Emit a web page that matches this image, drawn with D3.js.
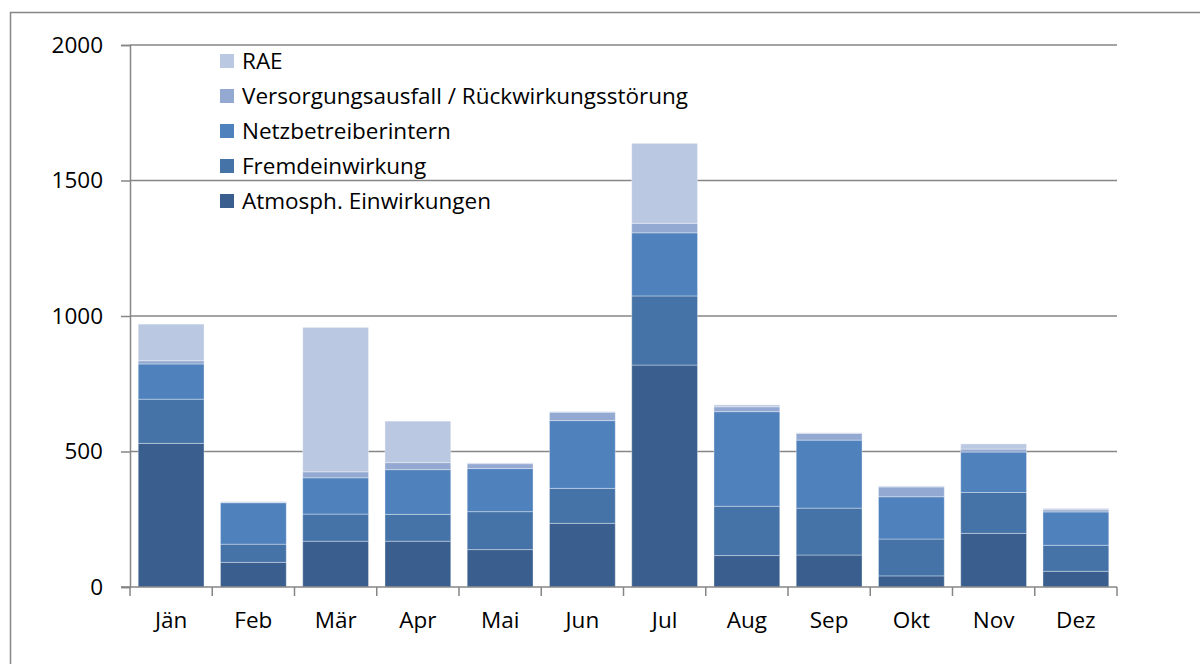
<!DOCTYPE html>
<html>
<head>
<meta charset="utf-8">
<script src="https://cdnjs.cloudflare.com/ajax/libs/d3/7.8.5/d3.min.js"></script>
<style>
  body { margin: 0; background: #fff; }
  text { font-family: "Open Sans", Lato, sans-serif; fill: #000; }
</style>
</head>
<body>
<div class="chart"></div>
<script>
const width = 1200;
const height = 664;

// months on the x axis
const months = ["Jän", "Feb", "Mär", "Apr", "Mai", "Jun", "Jul", "Aug", "Sep", "Okt", "Nov", "Dez"];

// series, bottom to top
const atmosph = [530, 91, 169, 169, 138, 235, 819, 116, 118, 41, 198, 58];
const fremd = [163, 67, 100, 99, 140, 129, 255, 182, 173, 136, 151, 96];
const netz = [130, 153, 134, 165, 159, 250, 233, 349, 251, 156, 149, 123];
const versorg = [12, 2, 22, 26, 18, 31, 35, 18, 25, 36, 11, 8];
const rae = [135, 2, 533, 153, 3, 2, 295, 7, 2, 3, 19, 5];

const seriesNames = ["Atmosph. Einwirkungen", "Fremdeinwirkung", "Netzbetreiberintern",
  "Versorgungsausfall / Rückwirkungsstörung", "RAE"];
const yTicks = [0, 500, 1000, 1500, 2000];

const colors = ["#3a5f8e", "#4572a7", "#4f81bd", "#93a9d1", "#bbc8e1"];

const margin = { left: 130, right: 1117, top: 45, bottom: 587 };
const fontSize = "22.5px";

const svg = d3.select(".chart")
  .append("svg")
  .attr("width", width)
  .attr("height", height);

// outer frame (only top and left visible)
svg.append("path")
  .attr("d", "M10.5," + height + " L10.5,12.5 L" + width + ",12.5")
  .attr("fill", "none")
  .attr("stroke", "#868686")
  .attr("stroke-width", 1.5);

const rows = months.map((m, i) => ({
  month: m,
  s0: atmosph[i], s1: fremd[i], s2: netz[i], s3: versorg[i], s4: rae[i]
}));
const keys = ["s0", "s1", "s2", "s3", "s4"];
const stacked = d3.stack().keys(keys)(rows);

const xScale = d3.scaleBand()
  .domain(months)
  .range([margin.left, margin.right])
  .paddingInner(0.2)
  .paddingOuter(0.1);

const yScale = d3.scaleLinear()
  .domain([0, 2000])
  .range([margin.bottom, margin.top]);

// gridlines
svg.append("g")
  .selectAll("line")
  .data(yTicks.filter(d => d > 0))
  .enter()
  .append("line")
  .attr("x1", margin.left)
  .attr("x2", margin.right)
  .attr("y1", d => yScale(d))
  .attr("y2", d => yScale(d))
  .attr("stroke", "#868686")
  .attr("stroke-width", 1.5);

// bars
svg.append("g")
  .selectAll("g")
  .data(stacked)
  .enter()
  .append("g")
  .attr("fill", (d, i) => colors[i])
  .selectAll("rect")
  .data(d => d)
  .enter()
  .append("rect")
  .attr("x", d => xScale(d.data.month))
  .attr("width", xScale.bandwidth())
  .attr("y", d => yScale(d[1]))
  .attr("height", d => Math.max(0, yScale(d[0]) - yScale(d[1])))
  .attr("stroke", "rgba(255,255,255,0.35)")
  .attr("stroke-width", 1);

// y axis
const yAxis = d3.axisLeft(yScale).tickValues(yTicks).tickSize(9).tickPadding(18).tickFormat(d3.format("d"));
const gy = svg.append("g")
  .attr("transform", "translate(" + margin.left + ",0)")
  .call(yAxis);
gy.select(".domain").attr("stroke", "#868686").attr("stroke-width", 1.5);
gy.selectAll(".tick line").attr("stroke", "#868686").attr("stroke-width", 1.5);
gy.selectAll(".tick text").style("font-size", fontSize).attr("fill", "#000");

// x axis with ticks between the categories
const gx = svg.append("g")
  .attr("transform", "translate(0," + margin.bottom + ")");
gx.append("line")
  .attr("x1", margin.left - 9)
  .attr("x2", margin.right)
  .attr("stroke", "#868686")
  .attr("stroke-width", 1.5);
const step = (margin.right - margin.left) / months.length;
gx.selectAll(".xt")
  .data(d3.range(months.length + 1))
  .enter()
  .append("line")
  .attr("x1", i => margin.left + i * step)
  .attr("x2", i => margin.left + i * step)
  .attr("y1", 0)
  .attr("y2", 9)
  .attr("stroke", "#868686")
  .attr("stroke-width", 1.5);
gx.selectAll(".xl")
  .data(months)
  .enter()
  .append("text")
  .attr("x", d => xScale(d) + xScale.bandwidth() / 2)
  .attr("y", 41)
  .attr("text-anchor", "middle")
  .style("font-size", fontSize)
  .text(d => d);

// legend, top entry is RAE
const legendOrder = [4, 3, 2, 1, 0];
const legend = svg.append("g");
legendOrder.forEach((s, j) => {
  const y = 61 + j * 35;
  legend.append("rect")
    .attr("x", 220)
    .attr("y", y - 7)
    .attr("width", 14)
    .attr("height", 14)
    .attr("fill", colors[s]);
  legend.append("text")
    .attr("x", 242)
    .attr("y", y + 8)
    .style("font-size", fontSize)
    .text(seriesNames[s]);
});
</script>
</body>
</html>
